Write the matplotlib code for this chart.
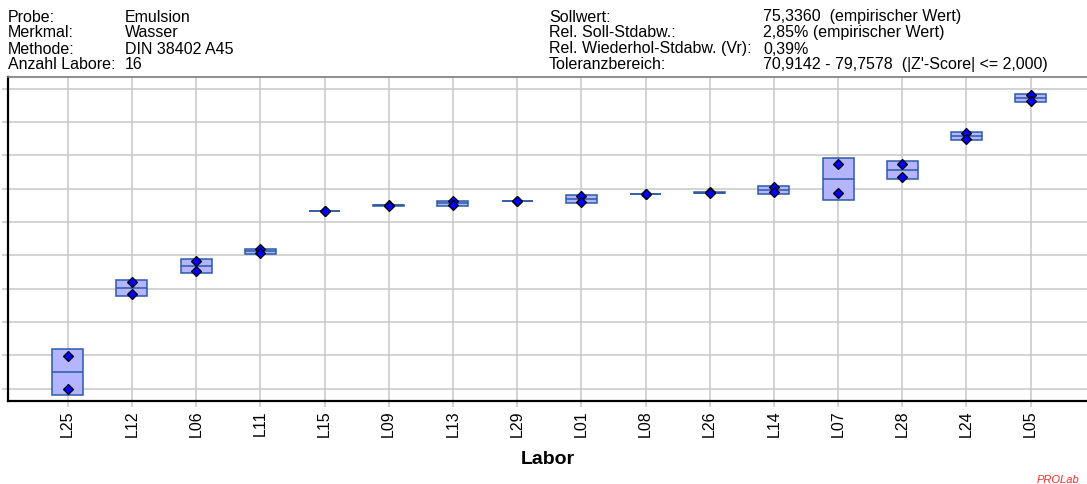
import matplotlib
matplotlib.use("Agg")
import matplotlib.pyplot as plt
import numpy as np

plt.rcParams['font.family'] = ['Liberation Sans', 'DejaVu Sans']

# ---- data ----
labs = ["L25", "L12", "L06", "L11", "L15", "L09", "L13", "L29",
        "L01", "L08", "L26", "L14", "L07", "L28", "L24", "L05"]
value_1 = [70.98, 73.19, 73.83, 74.18, 75.34, 75.51, 75.62, 75.63,
           75.78, 75.84, 75.89, 76.06, 76.75, 76.75, 77.66, 78.80]
value_2 = [70.00, 72.84, 73.53, 74.06, 75.33, 75.49, 75.51, 75.63,
           75.60, 75.84, 75.87, 75.89, 75.86, 76.36, 77.50, 78.63]
y_ticks = [70, 71, 72, 73, 74, 75, 76, 77, 78, 79]

header_left = [("Probe:", "Emulsion"), ("Merkmal:", "Wasser"),
               ("Methode:", "DIN 38402 A45"), ("Anzahl Labore:", "16")]
header_right = [("Sollwert:", "75,3360  (empirischer Wert)"),
                ("Rel. Soll-Stdabw.:", "2,85% (empirischer Wert)"),
                ("Rel. Wiederhol-Stdabw. (Vr):", "0,39%"),
                ("Toleranzbereich:", "70,9142 - 79,7578  (|Z'-Score| <= 2,000)")]

W, H = 1087, 485
fig = plt.figure(figsize=(W / 100, H / 100), dpi=100)

ax_left, ax_top, ax_bottom = 8, 77.5, 401.7
ax = fig.add_axes([ax_left / W, 1 - ax_bottom / H, (W - ax_left) / W, (ax_bottom - ax_top) / H])

x = np.arange(len(labs))
v = np.array([value_1, value_2])
mean = v.mean(axis=0)
sd = v.std(axis=0, ddof=1)

box_w = 0.48
edge = "#2B5BA8"
ax.bar(x, 2 * sd, bottom=mean - sd, width=box_w, color="#B4B4FF",
       edgecolor=edge, linewidth=1.1, zorder=3)
ax.hlines(mean, x - box_w / 2, x + box_w / 2, color=edge, linewidth=1.1, zorder=4)
for row in v:
    ax.plot(x, row, linestyle="none", marker="D", markersize=5.3,
            markerfacecolor="#0000FF", markeredgecolor="black",
            markeredgewidth=0.9, zorder=5)

ax.set_xlim(-0.93, 15.877)
ax.set_ylim(69.641, 79.365)
ax.set_xticks(x)
ax.set_xticklabels(labs, rotation=90, fontsize=11.5)
ax.set_yticks(y_ticks)
ax.set_yticklabels([])
ax.grid(True, color="#C8C8C8", linewidth=1.1, zorder=0)
ax.set_axisbelow(True)
ax.tick_params(axis="both", color="#C8C8C8", length=4.5, width=1.1, pad=1.5)

ax.spines["right"].set_visible(False)
ax.spines["left"].set_linewidth(1.6)
ax.spines["bottom"].set_linewidth(1.6)
ax.spines["top"].set_color("#7A7A7A")
ax.spines["top"].set_linewidth(1.2)

# header text
fs = 11.5
baselines = [21.5, 37.5, 53.5, 69.5]
for (lab, val), yb in zip(header_left, baselines):
    fig.text(8 / W, 1 - yb / H, lab, fontsize=fs, va="baseline", ha="left")
    fig.text(125 / W, 1 - yb / H, val, fontsize=fs, va="baseline", ha="left")
for (lab, val), yb in zip(header_right, baselines):
    fig.text(549 / W, 1 - yb / H, lab, fontsize=fs, va="baseline", ha="left")
    fig.text(763 / W, 1 - yb / H, val, fontsize=fs, va="baseline", ha="left")

fig.text(548 / W, 1 - 464 / H, "Labor", fontsize=14, fontweight="bold",
         ha="center", va="baseline")
fig.text(1079 / W, 1 - 483 / H, "PROLab", fontsize=8, style="italic",
         color="#FF2A2A", ha="right", va="baseline")

fig.savefig("out.png", dpi=100)
